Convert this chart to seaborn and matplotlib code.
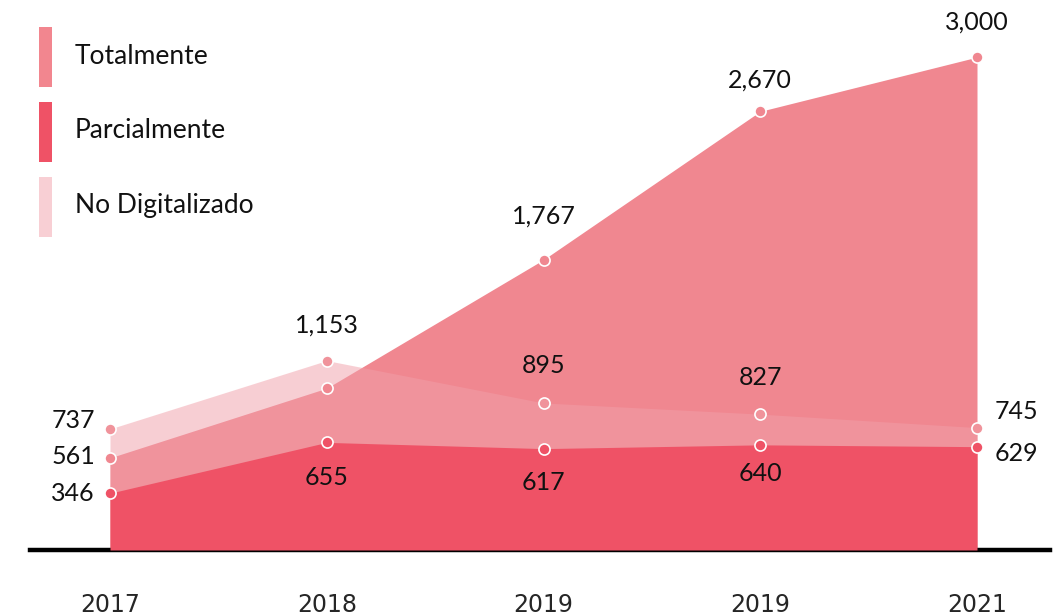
import matplotlib.pyplot as plt
from matplotlib.patches import Rectangle
import seaborn as sns
import pandas as pd

sns.set_theme(style="white")
plt.rcParams["font.family"] = ["Lato", "DejaVu Sans"]

years = ["2017", "2018", "2019", "2019", "2021"]
totalmente = [561, 985, 1767, 2670, 3000]
parcialmente = [346, 655, 617, 640, 629]
no_digitalizado = [737, 1153, 895, 827, 745]

# which points get a printed value (2018 Totalmente is unlabeled in the source)
totalmente_labeled = [True, False, True, True, True]

x = list(range(len(years)))

fig = plt.figure(figsize=(10.59, 6.16), dpi=100)
ax = fig.add_axes([30 / 1059, 66 / 616, 1020 / 1059, 550 / 616])

# areas: Totalmente at the back, translucent No Digitalizado over it, solid Parcialmente on top
ax.fill_between(x, totalmente, color="#f08790", lw=0, zorder=1)
ax.fill_between(x, no_digitalizado, color="#f19fa9", alpha=0.5, lw=0, zorder=2)
ax.fill_between(x, parcialmente, color="#ef5266", lw=0, zorder=3)

df = pd.DataFrame({"x": x * 3,
                   "value": no_digitalizado + totalmente + parcialmente,
                   "serie": ["No Digitalizado"] * 5 + ["Totalmente"] * 5 + ["Parcialmente"] * 5})
marker_colors = {"No Digitalizado": "#f0939b", "Totalmente": "#f08790", "Parcialmente": "#ef5266"}
for name, grp in df.groupby("serie"):
    sns.lineplot(data=grp, x="x", y="value", ax=ax, lw=0, marker="o", markersize=8,
                 markerfacecolor=marker_colors[name], markeredgecolor="white",
                 markeredgewidth=1.2, zorder=5, legend=False)

ax.set_xlim(-80 / 216.75, 4 + 73 / 216.75)
ax.set_ylim(0, 550 / 0.1643)

# value labels (offsets in pixels: dx, dy with dy positive = up)
off_nd = [(-15, 8), (0, 35), (0, 37), (0, 37), (18, 16)]
off_tot = [(-15, 1), (0, 0), (0, 44), (0, 31), (0, 35)]
off_par = [(-15, 0), (0, -35), (0, -34), (0, -29), (18, -7)]


def label(vals, offs, show=None):
    for i, (v, (dx, dy)) in enumerate(zip(vals, offs)):
        if show is not None and not show[i]:
            continue
        ha = "center"
        if dx < 0:
            ha = "right"
        elif dx > 0:
            ha = "left"
        ax.annotate(f"{v:,}", (i, v), xytext=(dx * 0.72, dy * 0.72), textcoords="offset points",
                    ha=ha, va="center", fontsize=18, color="#111111", zorder=6)


label(no_digitalizado, off_nd)
label(totalmente, off_tot, totalmente_labeled)
label(parcialmente, off_par)

sns.despine(ax=ax, left=True, top=True, right=True)
ax.spines["bottom"].set_color("black")
ax.spines["bottom"].set_linewidth(3.2)
ax.set_yticks([])
ax.set_xticks(x)
ax.set_xticklabels(years, fontsize=17, family=["Liberation Sans Narrow", "DejaVu Sans"])
ax.tick_params(axis="x", length=0, pad=31)
ax.set_xlabel("")
ax.set_ylabel("")
ax.grid(False)

# legend drawn by hand: tall colour bars with labels
legend_items = [("Totalmente", "#f2868f"), ("Parcialmente", "#ef5266"), ("No Digitalizado", "#f8cfd4")]
for k, (name, col) in enumerate(legend_items):
    top = 27 + k * 75
    fig.patches.append(Rectangle((39 / 1059, 1 - (top + 60) / 616), 13 / 1059, 60 / 616,
                                 transform=fig.transFigure, color=col, lw=0))
    fig.text(75 / 1059, 1 - (top + 29) / 616, name, fontsize=19, va="center", ha="left", color="#111111")

plt.savefig("out.png", dpi=100)
plt.close()
